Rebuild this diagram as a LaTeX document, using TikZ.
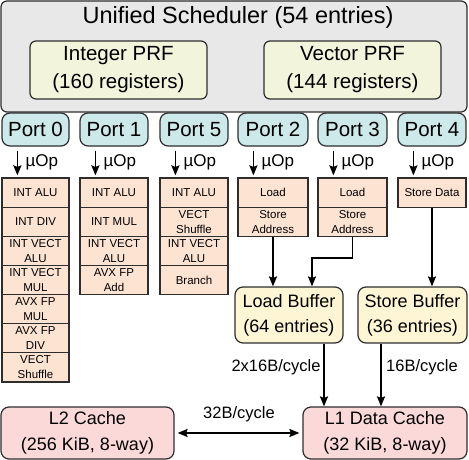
\documentclass[tikz,border=0pt]{standalone}
\usepackage{fontspec}
\setmainfont{Liberation Sans}
\usetikzlibrary{arrows.meta}
\definecolor{schedfill}{RGB}{232,232,232}
\definecolor{prffill}{RGB}{242,245,220}
\definecolor{portfill}{RGB}{205,233,234}
\definecolor{unitfill}{RGB}{253,227,210}
\definecolor{buffill}{RGB}{254,245,212}
\definecolor{cachefill}{RGB}{252,217,217}
\definecolor{edge}{RGB}{45,45,45}
\tikzset{
  basebox/.style={draw=edge, line width=1.2pt, inner sep=0pt, align=center},
  schedbox/.style={basebox, fill=schedfill, rounded corners=6pt},
  prfbox/.style={basebox, fill=prffill, rounded corners=6pt, minimum width=177pt, minimum height=58pt, font=\fontsize{20.5}{28}\selectfont},
  portbox/.style={basebox, fill=portfill, rounded corners=8pt, minimum height=33pt, font=\fontsize{20.5}{24}\selectfont},
  unitbox/.style={basebox, fill=unitfill, minimum height=29.14pt, font=\fontsize{11.5}{15}\selectfont},
  bufbox/.style={basebox, fill=buffill, rounded corners=8pt, minimum width=108pt, minimum height=56pt, font=\fontsize{18}{25}\selectfont},
  cachebox/.style={basebox, fill=cachefill, rounded corners=8pt, minimum height=52pt, font=\fontsize{18}{26}\selectfont},
  arr/.style={line width=1.8pt, -{Stealth[length=10pt,width=8pt,inset=1.5pt]}},
  darr/.style={line width=1.8pt, {Stealth[length=10pt,width=8pt,inset=1.5pt]}-{Stealth[length=10pt,width=8pt,inset=1.5pt]}},
  uop/.style={anchor=west, inner sep=0pt, font=\fontsize{17}{20}\selectfont},
  lbl/.style={inner sep=0pt, font=\fontsize{16.5}{20}\selectfont},
}
\begin{document}
\begin{tikzpicture}[x=1pt,y=-1pt]
\useasboundingbox (0,0) rectangle (469,460);
% scheduler
\node[schedbox, minimum width=466pt, minimum height=111pt] (sched) at (234,56.5) {};
\node[inner sep=0pt, font=\fontsize{23.5}{28}\selectfont] (title) at (238,17) {Unified Scheduler (54 entries)};
\node[prfbox] (iprf) at (118.5,70) {Integer PRF\\(160 registers)};
\node[prfbox] (vprf) at (352.5,70) {Vector PRF\\(144 registers)};
% ports
\node[portbox, minimum width=67pt] (p0) at (35.5,129.5) {Port 0};
\node[portbox, minimum width=68pt] (p1) at (114,129.5) {Port 1};
\node[portbox, minimum width=68pt] (p5) at (194,129.5) {Port 5};
\node[portbox, minimum width=70pt] (p2) at (273,129.5) {Port 2};
\node[portbox, minimum width=69pt] (p3) at (352.5,129.5) {Port 3};
\node[portbox, minimum width=68pt] (p4) at (432,129.5) {Port 4};
% port 0 units
\node[unitbox, minimum width=67pt] (u0a) at (35.5,192.57) {INT ALU};
\node[unitbox, minimum width=67pt] (u0b) at (35.5,221.71) {INT DIV};
\node[unitbox, minimum width=67pt] (u0c) at (35.5,250.85) {INT VECT\\ALU};
\node[unitbox, minimum width=67pt] (u0d) at (35.5,279.99) {INT VECT\\MUL};
\node[unitbox, minimum width=67pt] (u0e) at (35.5,309.13) {AVX FP\\MUL};
\node[unitbox, minimum width=67pt] (u0f) at (35.5,338.27) {AVX FP\\DIV};
\node[unitbox, minimum width=67pt] (u0g) at (35.5,367.41) {VECT\\Shuffle};
% port 1 units
\node[unitbox, minimum width=68pt] (u1a) at (114,192.57) {INT ALU};
\node[unitbox, minimum width=68pt] (u1b) at (114,221.71) {INT MUL};
\node[unitbox, minimum width=68pt] (u1c) at (114,250.85) {INT VECT\\ALU};
\node[unitbox, minimum width=68pt] (u1d) at (114,279.99) {AVX FP\\Add};
% port 5 units
\node[unitbox, minimum width=68pt] (u5a) at (194,192.57) {INT ALU};
\node[unitbox, minimum width=68pt] (u5b) at (194,221.71) {VECT\\Shuffle};
\node[unitbox, minimum width=68pt] (u5c) at (194,250.85) {INT VECT\\ALU};
\node[unitbox, minimum width=68pt] (u5d) at (194,279.99) {Branch};
% port 2 units
\node[unitbox, minimum width=70pt] (u2a) at (273,192.57) {Load};
\node[unitbox, minimum width=70pt] (u2b) at (273,221.71) {Store\\Address};
% port 3 units
\node[unitbox, minimum width=69pt] (u3a) at (352.5,192.57) {Load};
\node[unitbox, minimum width=69pt] (u3b) at (352.5,221.71) {Store\\Address};
% port 4 units
\node[unitbox, minimum width=68pt] (u4a) at (432,192.57) {Store Data};
% port -> unit arrows with uop labels
\foreach \p/\u in {p0/u0a,p1/u1a,p5/u5a,p2/u2a,p3/u3a,p4/u4a}{
  \draw[arr] ([xshift=16pt,yshift=-4pt]\p.south west) -- ([xshift=16pt,yshift=2pt]\u.north west);
  \node[uop] (\p uop) at ([xshift=24pt,yshift=-16pt]\p.south west) {µOp};
}
% buffers
\node[bufbox] (lb) at (289,315) {Load Buffer\\(64 entries)};
\node[bufbox, minimum width=109pt] (sb) at (412.5,315) {Store Buffer\\(36 entries)};
% caches
\node[cachebox, minimum width=173pt] (l2) at (87.5,433) {L2 Cache\\(256 KiB, 8-way)};
\node[cachebox, minimum width=164pt] (l1) at (385,433) {L1 Data Cache\\(32 KiB, 8-way)};
% connectors
\draw[arr] (u2b.south) -- (u2b.south |- lb.north);
\coordinate (bend) at (312,258);
\draw[arr] (u3b.south) |- (bend) -- (bend |- lb.north);
\draw[arr] (u4a.south) -- (u4a.south |- sb.north);
\draw[arr] ([xshift=35pt]lb.south) -- ([xshift=35pt]lb.south |- l1.north);
\draw[arr] ([xshift=-31.5pt]sb.south) -- ([xshift=-31.5pt]sb.south |- l1.north);
\draw[darr] ([xshift=3pt]l2.east) -- ([xshift=-3pt]l1.west);
% labels
\node[lbl] (lab1) at (276,367) {2x16B/cycle};
\node[lbl] (lab2) at (422,367) {16B/cycle};
\node[lbl] (lab3) at (239,414) {32B/cycle};
\end{tikzpicture}
\end{document}
